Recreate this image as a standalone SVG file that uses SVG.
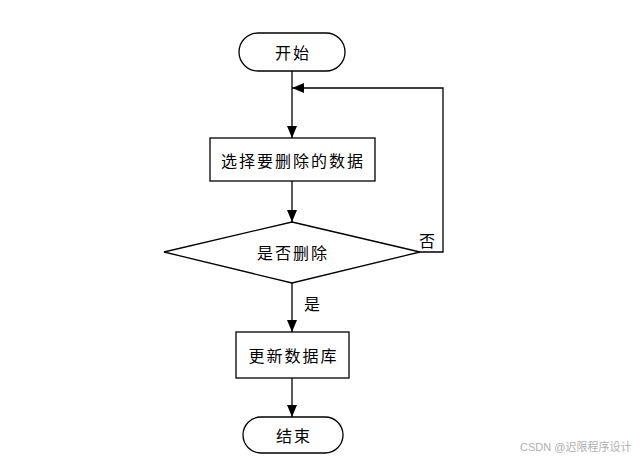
<svg xmlns="http://www.w3.org/2000/svg" width="639" height="464" viewBox="0 0 639 464">
<style>
.s{fill:#fff;stroke:#000;stroke-width:1.3}
.t{font-family:"Noto Sans CJK SC","Liberation Sans",sans-serif;font-size:16px;letter-spacing:2px;fill:#000;text-anchor:middle;dominant-baseline:central}
.c{fill:none;stroke:#000;stroke-width:1.3}
.w{font-family:"Liberation Sans","Noto Sans CJK SC",sans-serif;font-size:11px;fill:#b0b0b0}
</style>
<defs>
<marker id="a" viewBox="0 0 12 10" refX="12" refY="5" markerWidth="12" markerHeight="10" markerUnits="userSpaceOnUse" orient="auto">
<path d="M0,0L12,5L0,10z" fill="#000"/>
</marker>
</defs>
<rect width="639" height="464" fill="#fff"/>
<g id="connectors">
<path class="c" d="M292,71V138" marker-end="url(#a)"/>
<path class="c" d="M420,252H443V88H292" marker-end="url(#a)"/>
<path class="c" d="M292,181V222" marker-end="url(#a)"/>
<path class="c" d="M292,283V332" marker-end="url(#a)"/>
<path class="c" d="M292,378V417" marker-end="url(#a)"/>
<text class="t" x="313" y="303">是</text>
<text class="t" x="428" y="240">否</text>
</g>
<g id="start"><rect class="s" x="239" y="33" width="106" height="38" rx="19"/><text class="t" x="293" y="52">开始</text></g>
<g id="select"><rect class="s" x="210" y="138" width="165" height="43"/><text class="t" x="293" y="159.5">选择要删除的数据</text></g>
<g id="decide"><polygon class="s" points="292,222 420,252 292,283 164,252"/><text class="t" x="293" y="252">是否删除</text></g>
<g id="update"><rect class="s" x="236" y="332" width="113" height="46"/><text class="t" x="293.5" y="355">更新数据库</text></g>
<g id="end"><rect class="s" x="243" y="417" width="100" height="36" rx="18"/><text class="t" x="294" y="435">结束</text></g>
<text class="w" x="520" y="451">CSDN @迟限程序设计</text>
</svg>
